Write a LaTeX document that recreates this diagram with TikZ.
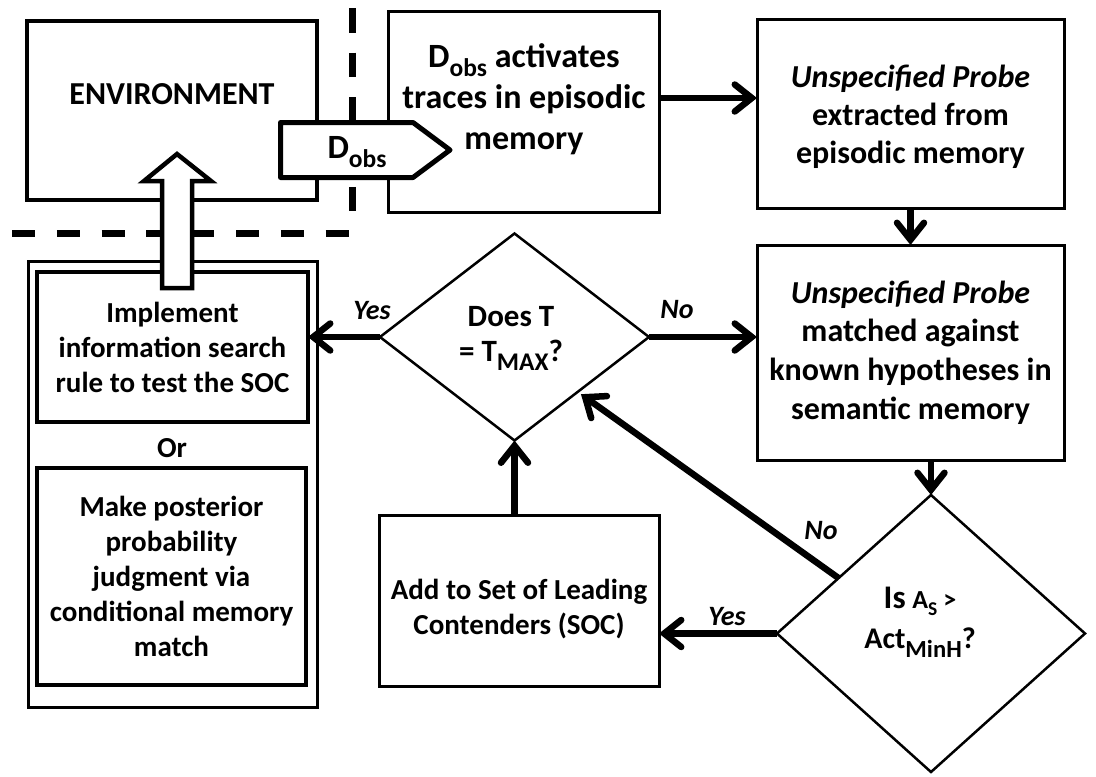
\documentclass[tikz,border=0pt]{standalone}
\usepackage{fontspec}
\setmainfont{Carlito}
\usetikzlibrary{arrows.meta,shapes.geometric,calc}
\newcommand\lsub[1]{\raisebox{-0.55ex}{\scalebox{0.75}{#1}}}
\newcommand\msub[1]{\raisebox{-0.6ex}{\scalebox{0.82}{#1}}}
\begin{document}
\begin{tikzpicture}[x=1pt,y=-1pt,
  txt/.style={font=\fontsize{29}{35}\selectfont\bfseries, align=center, inner sep=0pt, outer sep=0pt},
  lbl/.style={font=\fontsize{28}{30}\selectfont\bfseries\itshape, inner sep=0pt},
  box/.style={draw, line width=3pt, inner sep=0pt, outer sep=0pt},
  ibox/.style={draw, line width=4.5pt, inner sep=0pt, outer sep=0pt},
  dia/.style={diamond, draw, line width=2.5pt, inner sep=0pt, outer sep=0pt},
  conn/.style={line width=6.5pt, -{Straight Barb[length=17pt,width=27pt,line cap=round]}},
  sep/.style={line width=7pt},
]
\useasboundingbox (0,0) rectangle (1096,777);

% environment
\node[box, line width=4pt, minimum width=290pt, minimum height=179pt] (env) at (172,110.5) {};
\node[txt, font=\fontsize{32}{38}\selectfont\bfseries] (envt) at (172,94) {ENVIRONMENT};

% main flow boxes
\node[box, minimum width=271pt, minimum height=201pt] (b1) at (523.5,111.5) {};
\node[txt, font=\fontsize{34}{41}\selectfont\bfseries] (b1t) at (524,99) {D\lsub{obs} activates\\traces in episodic\\memory};

\node[box, minimum width=307pt, minimum height=189pt] (b2) at (910.5,113.5) {};
\node[txt, font=\fontsize{32}{38}\selectfont\bfseries] (b2t) at (910.5,117)
  {\textit{Unspecified Probe}\\extracted from\\episodic memory};

\node[box, minimum width=307pt, minimum height=215pt, txt, font=\fontsize{32}{38.7}\selectfont\bfseries] (b3) at (910.5,352.5)
  {\textit{Unspecified Probe}\\matched against\\known hypotheses in\\semantic memory};

\node[box, minimum width=280pt, minimum height=171pt] (soc) at (519,600.5) {};
\node[txt] (soct) at (519,609) {Add to Set of Leading\\Contenders (SOC)};

% diamonds
\node[dia, minimum width=269pt, minimum height=207pt] (d1) at (514.5,337) {};
\node[txt, font=\fontsize{31}{35}\selectfont\bfseries] (d1t) at (511,338) {Does T\\= T\msub{MAX}?};

\node[dia, minimum width=308pt, minimum height=277pt] (d2) at (931,633.5) {};
\node[txt, font=\fontsize{30}{40}\selectfont\bfseries] (d2t) at (920,622) {{\fontsize{33}{40}\selectfont Is} {\fontsize{26}{40}\selectfont A\lsub{S} >}\\Act\msub{MinH}?};

% left container
\node[box, minimum width=289pt, minimum height=446pt] (outer) at (172.5,484) {};
\node[ibox, minimum width=271pt, minimum height=150pt, txt] (impl) at (172.5,347)
  {Implement\\information search\\rule to test the SOC};
\node[txt] (or) at (172,448) {Or};
\node[ibox, minimum width=269pt, minimum height=217pt, txt] (make) at (171.5,576.5)
  {Make posterior\\probability\\judgment via\\conditional memory\\match};

% connectors
\coordinate (a1) at ([yshift=13.5pt]b1.east);
\draw[conn] (a1) -- (a1 -| b2.west);
\draw[conn] (b2.south) -- (b3.north);
\draw[conn] (b3.south -| d2.north) -- (d2.north);
\draw[conn] (d1.east) -- (d1.east -| b3.west);
\draw[conn, shorten >=4pt] ($(d2.west)!0.4!(d2.north)$) -- ($(d1.east)!0.53!(d1.south)$);
\draw[conn] (d2.west) -- (d2.west -| soc.east);
\draw[conn] (soc.north -| d1.south) -- (d1.south);
\draw[conn] (d1.west) -- (d1.west -| impl.east);

% labels
\node[lbl] (lyes1) at (372,311) {Yes};
\node[lbl] (lno1) at (677,310) {No};
\node[lbl] (lno2) at (821,531) {No};
\node[lbl] (lyes2) at (727,617) {Yes};

% dashed separators
\draw[sep, dash pattern=on 23pt off 21.8pt] (12,233) -- (352,233);
\draw[sep, dash pattern=on 24.5pt off 20.2pt] (352,8) -- (352,230);

% D_obs pentagon
\draw[line width=5pt, fill=white, line join=round] (280.5,122.5) -- (413,122.5) -- (450,150) -- (413,177.5) -- (280.5,177.5) -- cycle;
\node[txt, font=\fontsize{34}{40}\selectfont\bfseries] (dobs) at (357,152.5) {D\lsub{obs}};

% hollow block arrow
\draw[line width=4.5pt, fill=white, line join=miter] (162,288) -- (162,181) -- (144,181) -- (177,154) -- (211,181) -- (192,181) -- (192,288) -- cycle;
\end{tikzpicture}
\end{document}
